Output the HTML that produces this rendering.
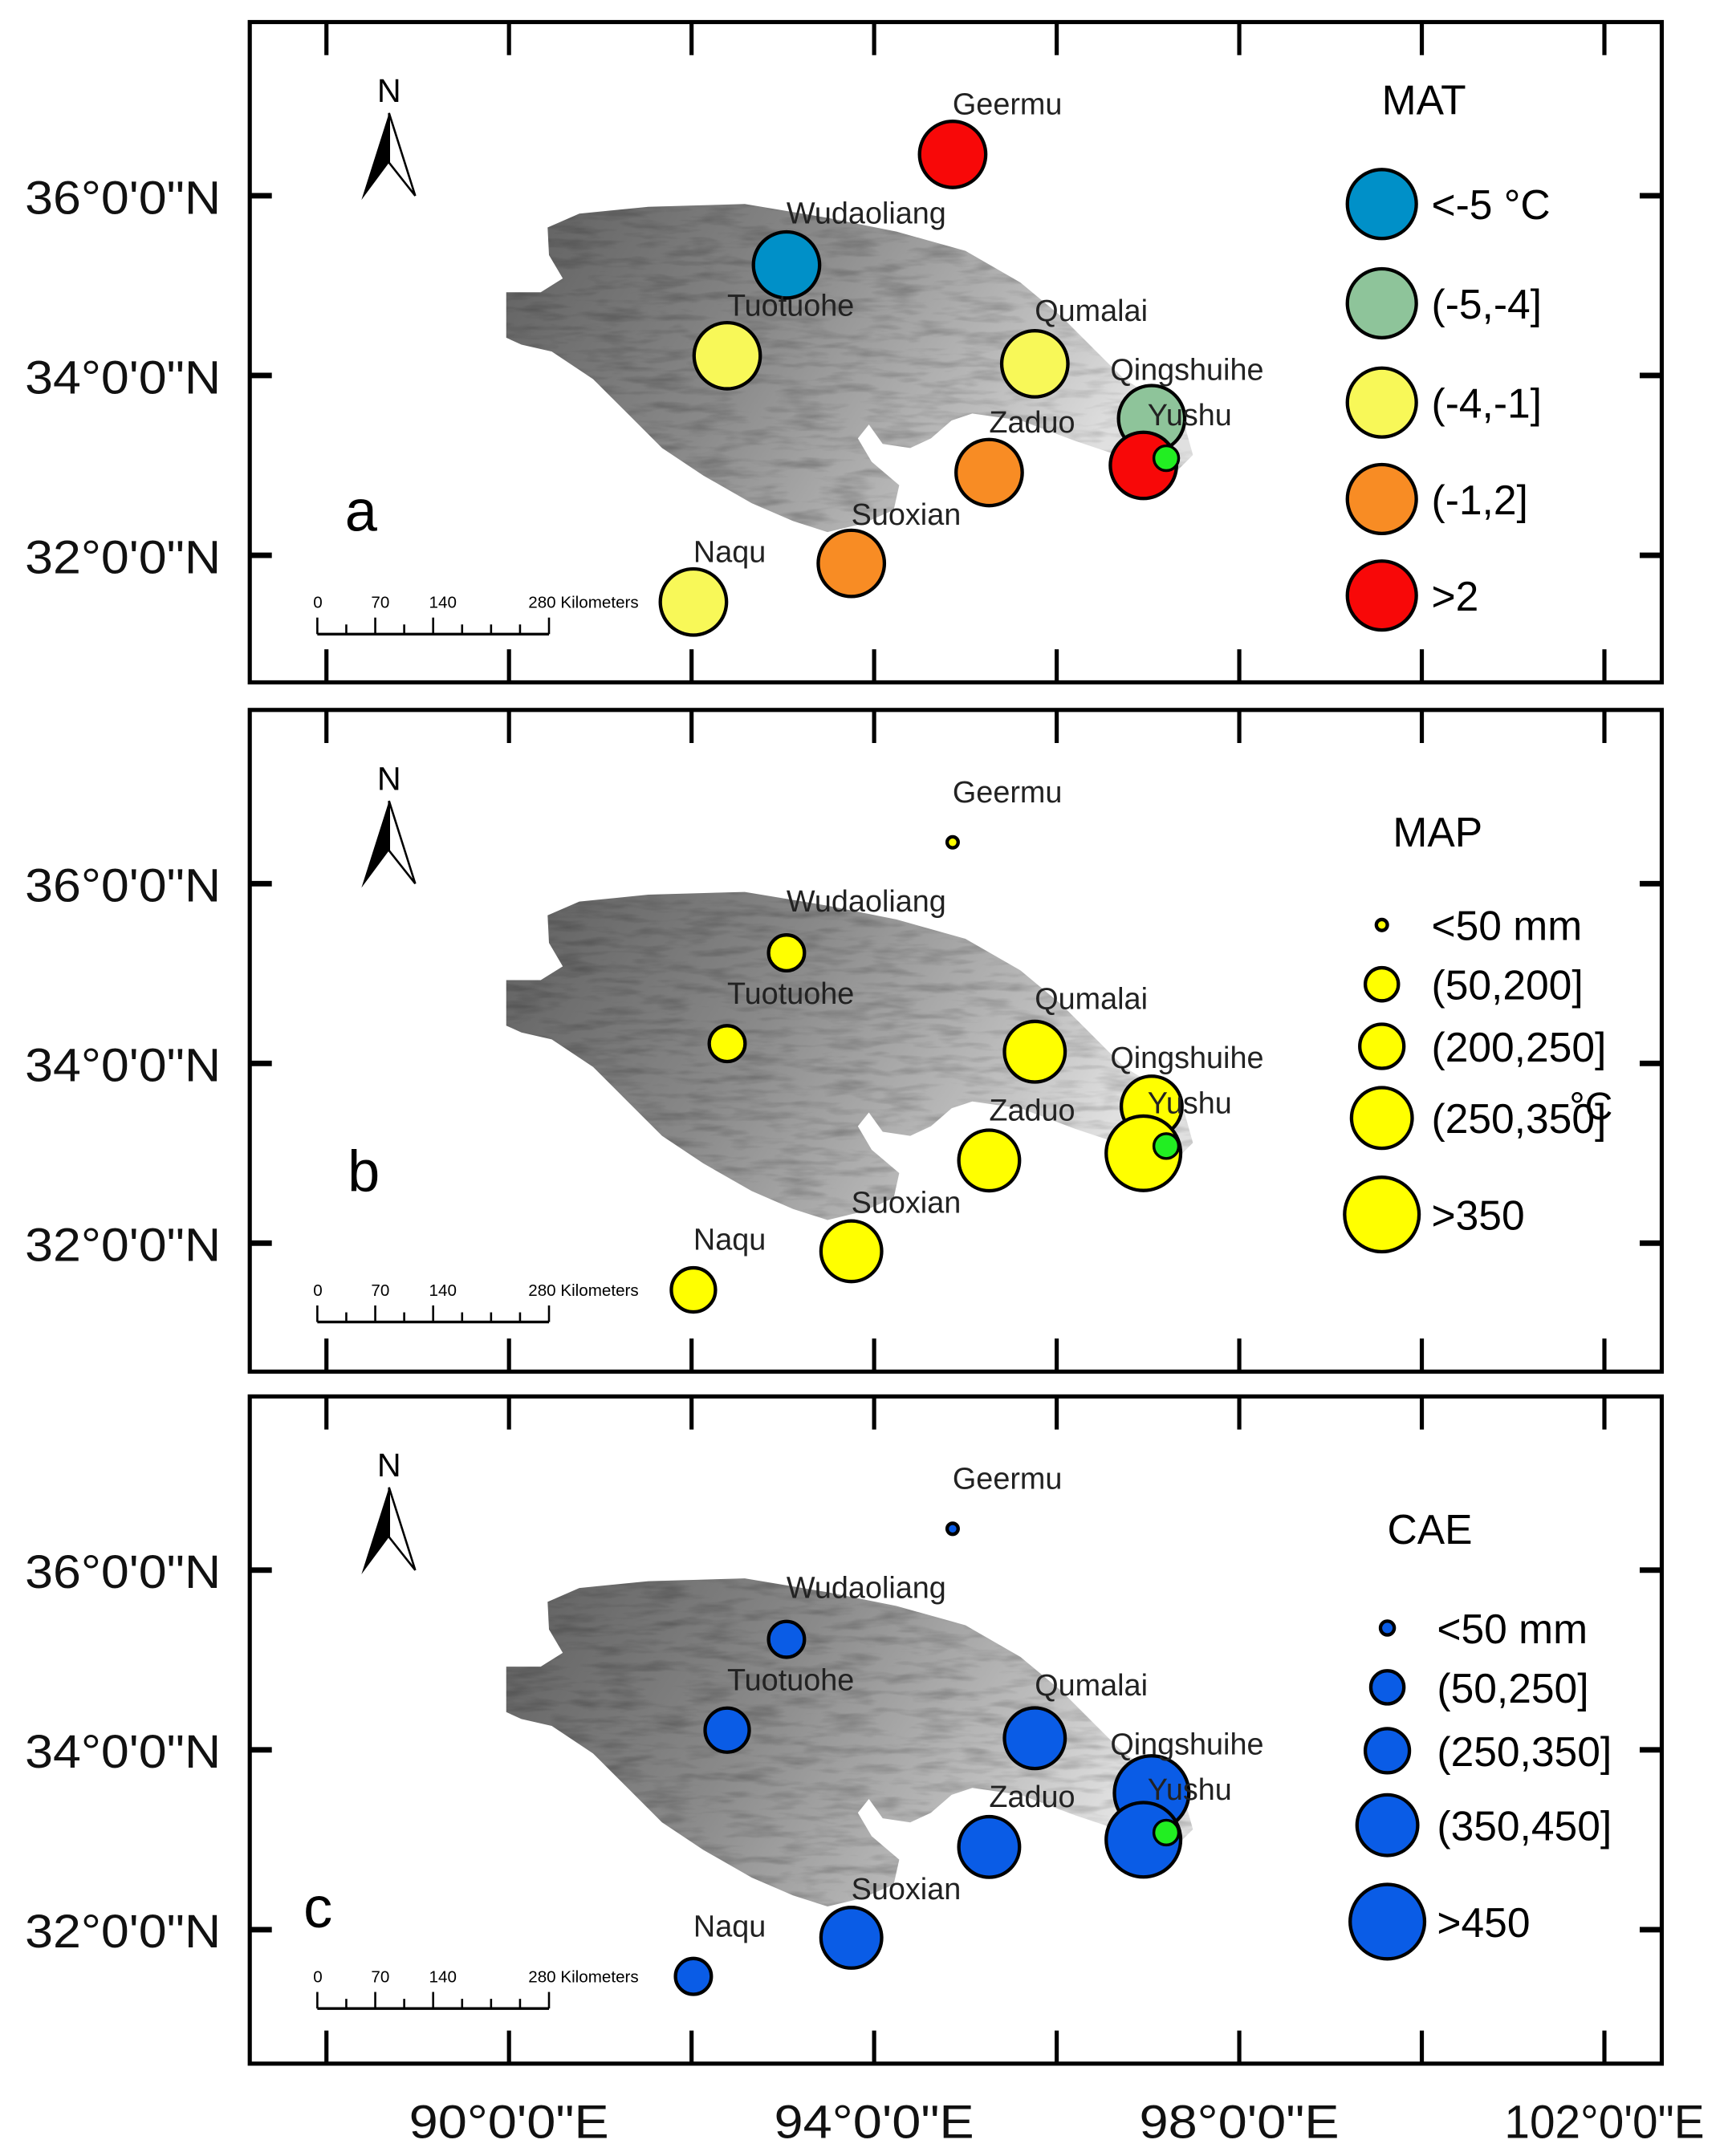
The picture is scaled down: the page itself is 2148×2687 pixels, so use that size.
<!DOCTYPE html>
<html><head><meta charset="utf-8"><style>
html,body{margin:0;padding:0;background:#fff;}
svg{display:block;}
text{font-family:"Liberation Sans",sans-serif;}
</style></head><body>
<svg id="fig" width="2148" height="2687" viewBox="0 0 1250 1564" xmlns="http://www.w3.org/2000/svg">
<defs>
<linearGradient id="terr" x1="0" y1="0" x2="1" y2="0.3">
<stop offset="0" stop-color="#5e5e5e"/><stop offset="0.45" stop-color="#8a8a8a"/><stop offset="0.8" stop-color="#bcbcbc"/><stop offset="1" stop-color="#e0e0e0"/>
</linearGradient>
<filter id="tex" x="0" y="0" width="1" height="1">
<feTurbulence type="fractalNoise" baseFrequency="0.03 0.15" numOctaves="3" seed="4" result="n"/>
<feColorMatrix in="n" type="matrix" values="0 0 0 0 0  0 0 0 0 0  0 0 0 0 0  0 0 0 -1.8 1.0" result="a"/>
<feComposite in="a" in2="SourceGraphic" operator="in"/>
</filter>
</defs>
<g id="root"></g>
</svg>
<script>
// ---- data ----
const stations = ["Geermu","Wudaoliang","Tuotuohe","Qumalai","Qingshuihe","Yushu","Zaduo","Suoxian","Naqu"];
const lons = [94.86,93.04,92.39,95.76,97.04,96.95,95.26,93.75,92.02];
const lats = [36.46,35.23,34.22,34.13,33.52,33.0,32.92,31.91,31.48];
const matValues = [4.5,-5.6,-3.0,-2.1,-4.8,3.2,0.5,-0.5,-1.2];
const mapValues = [42,190,200,330,320,480,300,310,210];
const caeValues = [30,240,270,380,460,480,380,360,240];
const matLegend = ["<-5  °C","(-5,-4]","(-4,-1]","(-1,2]",">2"];
const mapLegend = ["<50  mm","(50,200]","(200,250]","(250,350]",">350"];
const caeLegend = ["<50  mm","(50,250]","(250,350]","(350,450]",">450"];
const lonTicks = [88,90,92,94,96,98,100,102];
const lonLabels = ["90°0'0\"E","94°0'0\"E","98°0'0\"E","102°0'0\"E"];
const lonLabelVals = [90,94,98,102];
const latTicks = [36,34,32];
const latLabels = ["36°0'0\"N","34°0'0\"N","32°0'0\"N"];
const labelDx = [0,0,0,0,-30,3,0,0,0];
const labelDy = [-29,-30,-29,-31,-28,-29,-29,-28,-29];

const NS="http://www.w3.org/2000/svg";
const root=document.getElementById('root');
function el(tag,attrs,parent,txt){const e=document.createElementNS(NS,tag);for(const k in attrs)e.setAttribute(k,attrs[k]);if(txt!==undefined)e.textContent=txt;(parent||root).appendChild(e);return e;}
const xS = lon => 369 + (lon-90)*66.2;
const yS = (lat,off) => off + 142 + (36-lat)*65.2;

const matColors=["#0090c8","#8ec49a","#f8f858","#f88c24","#f80808"];
function matCat(v){return v<-5?0:v<=-4?1:v<=-1?2:v<=2?3:4;}
const mapR=[4,13,16,22,27];
function mapCat(v){return v<50?0:v<=200?1:v<=250?2:v<=350?3:4;}
function caeCat(v){return v<50?0:v<=250?1:v<=350?2:v<=450?3:4;}

const terrain=[[397,165],[420,155],[470,150],[540,148],[600,158],[650,168],[700,182],[740,205],[770,230],[795,255],[815,275],[840,290],[858,305],[865,330],[850,345],[830,345],[810,330],[780,320],[740,305],[705,300],[690,305],[675,318],[660,325],[640,322],[630,308],[622,318],[632,335],[652,352],[648,370],[625,380],[600,386],[575,378],[545,365],[510,345],[480,325],[455,300],[430,275],[400,255],[378,250],[367,245],[367,212],[392,212],[408,202],[398,185]];

const panels=[{off:0,top:16,bot:495,letter:"a",lx:250,ly:385,title:"MAT",tx:1002,ty:83,leg:matLegend,name:"mat"},
{off:499,top:515,bot:995,letter:"b",lx:252,ly:864,title:"MAP",tx:1010,ty:614,leg:mapLegend,name:"map"},
{off:997,top:1013,bot:1497,letter:"c",lx:220,ly:1398,title:"CAE",tx:1006,ty:1120,leg:caeLegend,name:"cae"}];

panels.forEach((p,pi)=>{
  const g=el('g',{});
  
  
  const pts=terrain.map(q=>q[0]+','+(q[1]+p.off)).join(' ');
  const t=el('polygon',{points:pts,fill:'url(#terr)'},g);
  
  
  el('polygon',{points:pts,fill:'#000',opacity:'0.25',filter:'url(#tex)'},g);
  const fr=el('rect',{x:181,y:p.top,width:1024,height:p.bot-p.top,fill:'none',stroke:'#000','stroke-width':3},g);
  
  
  lonTicks.forEach(l=>{const x=xS(l);
    el('line',{x1:x,x2:x,y1:p.top,y2:p.top+24,stroke:'#000','stroke-width':3},g);
    el('line',{x1:x,x2:x,y1:p.bot-24,y2:p.bot,stroke:'#000','stroke-width':3},g);});
  latTicks.forEach((l,i)=>{const y=yS(l,p.off);
    el('line',{x1:181,x2:197,y1:y,y2:y,stroke:'#000','stroke-width':4},g);
    el('line',{x1:1189,x2:1205,y1:y,y2:y,stroke:'#000','stroke-width':4},g);
    const tl=el('text',{x:160,y:y+13,'text-anchor':'end','font-size':34,textLength:142,lengthAdjust:'spacingAndGlyphs',fill:'#111'},g,latLabels[i]);
    
    
  });
  const na=el('g',{},g);
  
  
  el('text',{x:282,y:p.off+74,'text-anchor':'middle','font-size':24},na,"N");
  el('polygon',{points:`282,${p.off+82} 262,${p.off+145} 282,${p.off+118}`,fill:'#000'},na);
  el('polygon',{points:`282,${p.off+82} 301,${p.off+142} 282,${p.off+118}`,fill:'#fff',stroke:'#000','stroke-width':1.5},na);
  const sb=el('g',{},g);
  
  
  el('line',{x1:230,x2:398,y1:p.off+460,y2:p.off+460,stroke:'#000','stroke-width':2},sb);
  [230,251,272,293,314,335,356,377,398].forEach((x,k)=>el('line',{x1:x,x2:x,y1:p.off+(k%4===0||k===2?448:453),y2:p.off+460,stroke:'#000','stroke-width':1.5},sb));
  [["0",230],["70",272],["140",314],["280 Kilometers",386]].forEach(a=>el('text',{x:a[1]-3,y:p.off+441,'font-size':12},sb,a[0]));
  const lt=el('text',{x:p.lx,y:p.ly,'font-size':42},g,p.letter);
  
  
  stations.forEach((s,i)=>{
    const cx=xS(lons[i]), cy=yS(lats[i],p.off);
    let r,fill;
    if(pi===0){r=24;fill=matColors[matCat(matValues[i])];}
    else if(pi===1){r=mapR[mapCat(mapValues[i])];fill='#ffff00';}
    else{r=mapR[caeCat(caeValues[i])];fill='#0a5ce6';}
    const c=el('circle',{cx:cx,cy:cy,r:r,fill:fill,stroke:'#000','stroke-width':2.5},g);
    
    
  });
  stations.forEach((s,i)=>{
    const cx=xS(lons[i]), cy=yS(lats[i],p.off);
    const tx=el('text',{x:cx+labelDx[i],y:cy+labelDy[i],'font-size':22,fill:'#222'},g,s);
    
    
  });
  const gd=el('circle',{cx:xS(97.2),cy:yS(33.08,p.off),r:9,fill:'#22ee22',stroke:'#000','stroke-width':2},g);
  
  
  const lg=el('g',{},g);
  
  
  el('text',{x:p.tx,y:p.ty,'font-size':30},lg,p.title);
  const legY = pi===0?[148,220,292,362,432]:(pi===1?[671,714,759,811,881]:[1181,1224,1270,1324,1394]);
  p.leg.forEach((lab,k)=>{
    let r,fill,cx=pi===2?1006:1002;
    if(pi===0){r=25;fill=matColors[k];}
    else if(pi===1){r=[4,12,16,22,27][k];fill='#ffff00';}
    else{r=[5,12,16,22,27][k];fill='#0a5ce6';}
    const lc=el('circle',{cx:cx,cy:legY[k],r:r,fill:fill,stroke:'#000','stroke-width':2.5},lg);
    
    
    el('text',{x:pi===2?1042:1038,y:legY[k]+11,'font-size':30},lg,lab);
  });
  if(pi===1) el('text',{x:1138,y:812,'font-size':28},lg,"°C");
});
lonLabelVals.forEach((l,i)=>{
  const t=el('text',{x:xS(l),y:1551,'text-anchor':'middle','font-size':34,textLength:145,lengthAdjust:'spacingAndGlyphs',fill:'#111'},root,lonLabels[i]);
  
  
});
</script>
</body></html>
